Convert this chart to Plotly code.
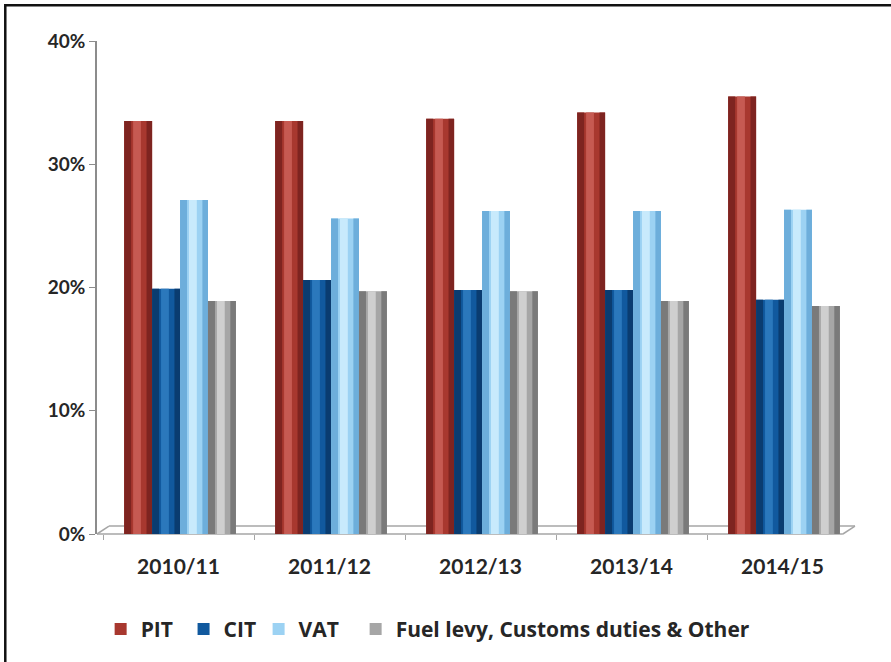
import plotly.graph_objects as go

# Data (shares of tax revenue, %)
anos = ['2010/11', '2011/12', '2012/13', '2013/14', '2014/15']
pit = [33.5, 33.5, 33.7, 34.2, 35.5]
cit = [19.9, 20.6, 19.8, 19.8, 19.0]
vat = [27.1, 25.6, 26.2, 26.2, 26.3]
fuel = [18.9, 19.7, 19.7, 18.9, 18.5]

y_ticks = [0, 10, 20, 30, 40]
y_labels = ['0%', '10%', '20%', '30%', '40%']

series = [
    ('PIT', pit, '#7E2420', '#A8382F', '#C65A52'),
    ('CIT', cit, '#0A3C70', '#11599E', '#2B78BC'),
    ('VAT', vat, '#6DAEDB', '#9CD2F3', '#C8EAFC'),
    ('Fuel levy, Customs duties & Other', fuel, '#7A7A7A', '#A6A6A6', '#CFCFCF'),
]

# one legend per entry so the spacing matches the original
legend_ids = ['legend', 'legend2', 'legend3', 'legend4']
legend_x = [0.0048, 0.1142, 0.2132, 0.3412]

fig = go.Figure()

w = 0.185
for i, (nome, vals, escuro, medio, claro) in enumerate(series):
    off = -0.36 + i * w
    # base bar
    fig.add_trace(go.Bar(
        x=anos, y=vals, name=nome, legendgroup=nome, legend=legend_ids[i],
        width=w, offset=off,
        marker=dict(color=medio, line=dict(width=0)),
    ))
    # dark edges of the cylinder
    fig.add_trace(go.Bar(
        x=anos, y=vals, showlegend=False, legendgroup=nome, hoverinfo='skip',
        width=w * 0.25, offset=off,
        marker=dict(color=escuro, line=dict(width=0)),
    ))
    fig.add_trace(go.Bar(
        x=anos, y=vals, showlegend=False, legendgroup=nome, hoverinfo='skip',
        width=w * 0.2, offset=off + w * 0.8,
        marker=dict(color=escuro, line=dict(width=0)),
    ))
    # highlight stripe
    fig.add_trace(go.Bar(
        x=anos, y=vals, showlegend=False, legendgroup=nome, hoverinfo='skip',
        width=w * 0.28, offset=off + w * 0.32,
        marker=dict(color=claro, line=dict(width=0)),
    ))

cinza = '#A6A6A6'
floor = [
    (0, 0, 0.984, 0),
    (0.0158, 0.0161, 1.0, 0.0161),
    (0, 0, 0.0158, 0.0161),
    (0.984, 0, 1.0, 0.0161),
]
shapes = [dict(type='line', xref='paper', yref='paper', x0=a, y0=b, x1=c, y1=d,
               line=dict(color=cinza, width=1.5), layer='below') for a, b, c, d in floor]
# outer frame (cropped on right/bottom)
shapes.append(dict(type='rect', xref='paper', yref='paper',
                   x0=-0.121, y0=-0.3, x1=1.2, y1=1.0726,
                   line=dict(color='#111111', width=2.5), layer='below'))

fonte = 'Lato, Open Sans, sans-serif'

fig.update_layout(
    width=891, height=662,
    margin=dict(l=97, r=36, t=41, b=125),
    paper_bgcolor='white', plot_bgcolor='white',
    barmode='overlay',
    showlegend=True,
    font=dict(family=fonte, size=15, color='#262626'),
    xaxis=dict(
        range=[-0.54, 4.48], showgrid=False, zeroline=False, showline=False,
        ticks='outside', tickson='boundaries', ticklen=5, tickcolor=cinza,
        ticklabelstandoff=18, automargin=False,
        tickfont=dict(size=21, family=fonte, weight='bold'),
    ),
    yaxis=dict(
        range=[0, 40], tickmode='array', tickvals=y_ticks, ticktext=y_labels,
        showgrid=False, zeroline=False, showline=True, linecolor='#8C8C8C', linewidth=1.5,
        ticks='outside', ticklen=6, tickcolor='#8C8C8C', automargin=False,
        tickfont=dict(size=19, family=fonte, weight='bold'),
    ),
    shapes=shapes,
)

for lid, lx in zip(legend_ids, legend_x):
    fig.update_layout({lid: dict(
        orientation='h', x=lx, xanchor='left', y=-0.1935, yanchor='middle',
        font=dict(size=21, family='Open Sans, sans-serif', weight='bold'),
        itemwidth=30, bgcolor='rgba(0,0,0,0)',
    )})

fig.write_html("out.html", config={'displayModeBar': False},
               post_script="document.body.style.margin='0px';")
